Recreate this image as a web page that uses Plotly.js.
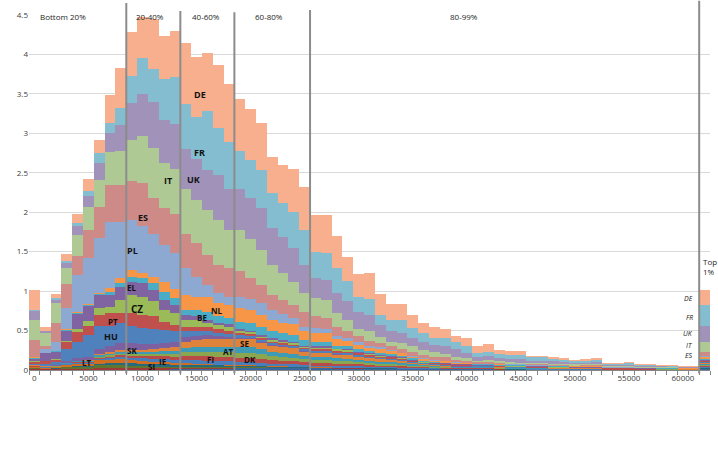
<!DOCTYPE html>
<html>
<head>
<meta charset="utf-8">
<script src="https://cdn.plot.ly/plotly-3.0.1.min.js"></script>
<style>
html, body { margin: 0; padding: 0; background: #fff; }
#chart { width: 718px; height: 460px; }
</style>
</head>
<body>
<div id="chart"></div>
<script>
// income bins (1000 wide), last one is the top 1%
const bins = [
	"0","1000","2000","3000","4000","5000","6000","7000","8000","9000",
	"10000","11000","12000","13000","14000","15000","16000","17000","18000","19000",
	"20000","21000","22000","23000","24000","25000","26000","27000","28000","29000",
	"30000","31000","32000","33000","34000","35000","36000","37000","38000","39000",
	"40000","41000","42000","43000","44000","45000","46000","47000","48000","49000",
	"50000","51000","52000","53000","54000","55000","56000","57000","58000","59000",
	"60000","61000","Top 1%"
];
const tick_pos = [0, 5, 10, 15, 20, 25, 30, 35, 40, 45, 50, 55, 60];
const tick_labels = ["0","5000","10000","15000","20000","25000","30000","35000","40000","45000","50000","55000","60000"];

// stacked from the bottom up
const LU = [.005,.002,.002,.002,.002,.002,.003,.003,.004,.004,
	.004,.005,.006,.007,.01,.012,.014,.016,.018,.02,
	.022,.022,.022,.022,.022,.02,.02,.02,.019,.019,
	.018,.017,.016,.015,.013,.011,.01,.009,.008,.007,
	.007,.007,.007,.006,.006,.006,.005,.005,.004,.004,
	.004,.004,.004,.003,.003,.003,.003,.003,.002,.002,
	.002,.002,.015];
const EE = [.005,.005,.006,.01,.012,.012,.02,.02,.022,.02,
	.018,.016,.015,.013,.012,.011,.01,.009,.008,.007,
	.006,.005,.004,.004,.003,.003,.002,.002,.002,.002,
	.002,.001,.001,.001,.001,.001,.001,.001,.001,.001,
	.001,.001,.001,.001,0,0,0,0,0,0,
	0,0,0,0,0,0,0,0,0,0,
	0,0,.002];
const LV = [.01,.008,.01,.02,.025,.025,.035,.035,.035,.03,
	.025,.02,.018,.015,.013,.011,.01,.009,.008,.007,
	.006,.005,.004,.004,.003,.003,.002,.002,.002,.002,
	.002,.001,.001,.001,.001,.001,.001,.001,.001,.001,
	.001,.001,.001,0,0,0,0,0,0,0,
	0,0,0,0,0,0,0,0,0,0,
	0,0,.002];
const SI = [.005,.003,.003,.005,.007,.008,.02,.025,.03,.032,
	.035,.035,.034,.032,.03,.028,.026,.024,.022,.02,
	.018,.015,.012,.01,.009,.007,.006,.006,.005,.004,
	.004,.003,.003,.003,.002,.002,.001,.001,.001,.001,
	.001,.001,.001,.001,.001,.001,.001,.001,.001,.001,
	.001,.001,.001,0,0,0,0,0,0,0,
	0,0,.003];
const LT = [.01,.01,.012,.025,.035,.035,.045,.045,.045,.04,
	.035,.03,.025,.02,.018,.015,.013,.011,.01,.009,
	.008,.007,.006,.005,.004,.003,.003,.003,.002,.002,
	.002,.002,.001,.001,.001,.001,.001,.001,.001,.001,
	.001,0,0,0,0,0,0,0,0,0,
	0,0,0,0,0,0,0,0,0,0,
	0,0,.002];
const IE = [.005,.005,.005,.008,.01,.01,.02,.025,.03,.032,
	.035,.038,.04,.04,.045,.045,.045,.044,.042,.04,
	.04,.036,.033,.032,.03,.026,.024,.024,.022,.021,
	.019,.017,.016,.015,.013,.011,.009,.008,.007,.006,
	.006,.005,.005,.005,.004,.004,.004,.004,.003,.003,
	.003,.003,.003,.003,.003,.003,.002,.002,.002,.002,
	.001,.001,.012];
const FI = [.005,.004,.004,.006,.007,.008,.015,.018,.022,.025,
	.028,.032,.036,.04,.05,.055,.058,.058,.057,.055,
	.055,.05,.045,.042,.04,.034,.031,.031,.028,.027,
	.023,.02,.019,.017,.015,.012,.01,.008,.007,.005,
	.005,.005,.005,.004,.004,.004,.003,.003,.003,.003,
	.003,.003,.003,.002,.002,.002,.002,.002,.002,.002,
	.001,.001,.01];
const DK = [.005,.003,.004,.005,.006,.007,.012,.015,.018,.02,
	.022,.025,.03,.035,.045,.05,.055,.058,.06,.062,
	.065,.058,.052,.05,.047,.04,.037,.037,.034,.032,
	.028,.025,.023,.021,.018,.015,.012,.01,.008,.007,
	.007,.006,.006,.005,.004,.004,.003,.003,.003,.003,
	.003,.003,.003,.002,.002,.002,.002,.002,.001,.001,
	.001,.001,.012];
const AT = [.005,.003,.004,.006,.007,.008,.015,.017,.02,.022,
	.025,.03,.035,.04,.055,.06,.065,.066,.068,.07,
	.07,.062,.055,.052,.048,.042,.038,.038,.035,.033,
	.03,.027,.025,.023,.02,.016,.013,.011,.009,.007,
	.007,.006,.006,.006,.005,.005,.004,.004,.003,.003,
	.003,.003,.003,.002,.002,.002,.001,.001,.001,.001,
	.001,.001,.012];
const SE = [.005,.004,.005,.008,.009,.01,.02,.022,.024,.025,
	.028,.032,.04,.05,.08,.088,.1,.1,.1,.1,
	.104,.088,.077,.071,.067,.056,.052,.052,.047,.044,
	.039,.035,.033,.031,.025,.019,.016,.014,.011,.008,
	.008,.008,.008,.007,.006,.006,.005,.005,.003,.003,
	.003,.003,.003,.003,.003,.003,.002,.002,.002,.002,
	.002,.002,.018];
const SK = [0,.003,.005,.015,.03,.035,.065,.075,.09,.09,
	.075,.067,.061,.058,.062,.055,.044,.035,.027,.02,
	.016,.012,.01,.008,.007,.006,.005,.005,.004,.004,
	.003,.002,.002,.002,.001,.001,.001,.001,.001,.001,
	.001,0,0,0,0,0,0,0,0,0,
	0,0,0,0,0,0,0,0,0,0,
	0,0,.002];
const HU = [.02,.03,.04,.16,.21,.28,.29,.26,.25,.22,
	.20,.19,.17,.14,.07,.06,.05,.04,.04,.03,
	.02,.02,.02,.02,.02,.02,.02,.02,.02,.02,
	.02,.02,.015,.015,.015,.01,.01,.01,.01,.01,
	.005,.005,.005,.005,.005,.005,.005,.005,.005,.005,
	.002,.002,.002,.002,.002,.002,.002,.002,.002,.002,
	.002,.002,.01];
const PT = [.02,.03,.03,.09,.12,.12,.14,.16,.13,.16,
	.17,.16,.10,.08,.06,.06,.05,.05,.04,.03,
	.03,.02,.02,.02,.02,.02,.02,.02,.02,.02,
	.02,.02,.015,.015,.015,.01,.01,.01,.01,.005,
	.01,.005,.005,.005,.005,.005,.005,.005,.005,.005,
	.003,.003,.003,.003,.003,.003,.002,.002,.002,.002,
	.002,.002,.01];
const CZ = [.02,.01,.01,.01,.04,.06,.08,.08,.17,.23,
	.23,.19,.15,.15,.08,.08,.06,.05,.05,.03,
	.02,.02,.02,.02,.02,.015,.02,.02,.02,.02,
	.01,.01,.01,.01,.01,.01,.005,.005,.005,.005,
	.005,.005,.005,.005,.005,.005,.005,.005,.005,.005,
	.005,.005,.005,.002,.002,.002,.002,.002,.002,.002,
	.002,.002,.01];
const EL = [.02,.09,.09,.13,.19,.19,.17,.15,.16,.17,
	.17,.15,.13,.10,.07,.06,.03,.03,.03,.02,
	.02,.02,.02,.015,.015,.015,.02,.02,.01,.01,
	.01,.01,.01,.01,.01,.01,.005,.005,.005,.005,
	.005,.005,.005,.005,.005,.005,.005,.005,.005,.005,
	.005,.005,.005,.003,.003,.003,.002,.002,.002,.002,
	.002,.002,.01];
const BE = [.015,.005,.005,.01,.01,.01,.01,.04,.05,.06,
	.06,.08,.10,.09,.06,.07,.11,.08,.08,.09,
	.10,.11,.10,.095,.085,.07,.06,.06,.04,.04,
	.04,.03,.03,.02,.02,.02,.015,.01,.01,.01,
	.01,.01,.01,.01,.01,.01,.005,.005,.005,.005,
	.005,.005,.005,.003,.003,.003,.002,.002,.002,.002,
	.002,.002,.01];
const NL = [.005,.005,.005,.01,.01,.02,.01,.05,.06,.09,
	.07,.08,.13,.12,.19,.17,.18,.17,.16,.17,
	.16,.15,.14,.13,.14,.11,.11,.11,.08,.07,
	.05,.04,.04,.035,.03,.02,.02,.015,.015,.01,
	.01,.005,.005,.005,.005,.005,.005,.005,.005,.005,
	.005,.005,.005,.002,.002,.002,.003,.003,.002,.002,
	.002,.002,.02];
const PL = [.01,.05,.12,.26,.47,.58,.70,.84,.72,.63,
	.59,.55,.46,.45,.34,.25,.16,.12,.11,.15,
	.14,.15,.12,.11,.08,.06,.06,.05,.04,.03,
	.03,.03,.03,.015,.01,.01,.01,.01,.01,.01,
	.005,.005,.005,.005,.005,.005,.005,.005,.005,.005,
	.005,.005,.005,.005,.005,.005,.003,.003,.003,.002,
	.002,.002,.02];
const ES = [.21,.03,.24,.31,.24,.35,.39,.465,.47,.49,
	.55,.45,.47,.50,.44,.43,.38,.36,.36,.32,
	.27,.23,.19,.18,.17,.19,.15,.14,.12,.10,
	.08,.06,.05,.05,.04,.05,.04,.04,.04,.03,
	.025,.02,.02,.015,.01,.01,.01,.01,.01,.005,
	.005,.01,.01,.005,.005,.005,.002,.002,.003,.002,
	.002,.002,.05];
const IT = [.25,.17,.25,.20,.27,.29,.35,.415,.42,.53,
	.60,.64,.58,.57,.56,.54,.57,.57,.48,.53,
	.49,.44,.38,.34,.29,.23,.23,.23,.17,.13,
	.09,.12,.08,.06,.08,.07,.06,.06,.04,.04,
	.03,.02,.03,.02,.02,.015,.02,.02,.015,.015,
	.015,.015,.02,.01,.01,.01,.01,.01,.008,.007,
	.006,.006,.12];
const UK = [.12,.02,.04,.07,.11,.14,.21,.24,.33,.47,
	.53,.58,.54,.57,.51,.52,.51,.57,.52,.52,
	.52,.53,.47,.45,.43,.36,.25,.25,.25,.25,
	.22,.21,.15,.14,.13,.10,.11,.09,.10,.10,
	.07,.05,.05,.04,.035,.04,.03,.03,.03,.025,
	.02,.02,.02,.015,.01,.01,.01,.01,.009,.009,
	.006,.006,.21];
const FR = [.01,.01,.02,.025,.04,.07,.13,.13,.22,.34,
	.46,.41,.52,.59,.57,.54,.74,.60,.60,.47,
	.48,.49,.44,.44,.45,.445,.34,.34,.32,.25,
	.18,.20,.13,.13,.16,.13,.11,.09,.10,.08,
	.08,.04,.05,.05,.055,.055,.04,.04,.03,.03,
	.02,.025,.025,.015,.015,.035,.012,.012,.012,.01,
	.008,.008,.26];
const DE = [.26,.05,.05,.085,.12,.15,.17,.36,.51,.55,
	.52,.64,.55,.59,.77,.76,.74,.80,.74,.66,
	.65,.59,.46,.48,.55,.545,.465,.49,.41,.30,
	.30,.33,.26,.21,.21,.17,.12,.13,.12,.08,
	.11,.09,.10,.05,.05,.05,.02,.02,.02,.02,
	.02,.02,.025,.01,.01,.01,.008,.008,.008,.008,
	.006,.006,.19];

const series = [
	["LU", LU, "#3a679c"], ["EE", EE, "#9e3b39"], ["LV", LV, "#5f7530"],
	["SI", SI, "#276a7c"], ["LT", LT, "#d06f21"], ["IE", IE, "#4a7ebb"],
	["FI", FI, "#b84a47"], ["DK", DK, "#8aa64e"], ["AT", AT, "#3e9bb5"],
	["SE", SE, "#e0833a"], ["SK", SK, "#7d60a0"],
	["HU", HU, "#4f81bd"], ["PT", PT, "#c0504d"], ["CZ", CZ, "#9bbb59"],
	["EL", EL, "#8064a2"], ["BE", BE, "#4bacc6"], ["NL", NL, "#f79646"],
	["PL", PL, "#8ea9d1"], ["ES", ES, "#cd8a87"], ["IT", IT, "#aec993"],
	["UK", UK, "#a092b8"], ["FR", FR, "#84bdcf"], ["DE", DE, "#f8af8d"]
];

const x_idx = bins.map((b, i) => i);

const chart_data = series.map(([name, values, color]) => ({
	name: name,
	type: "bar",
	x: x_idx,
	y: values,
	customdata: bins,
	marker: {color: color, line: {width: 0}},
	hovertemplate: name + " %{customdata}: %{y}<extra></extra>"
}));

// group dividers sit between bins
const dividers = [[8.5, 1.034], [13.5, 1.011], [18.5, 1.008], [25.5, 1.014], [61.5, 1.04]];

const shapes = dividers.map(([xv, top]) => ({
	type: "line", xref: "x", yref: "paper",
	x0: xv, x1: xv, y0: -0.01, y1: top,
	line: {color: "#8c8c8c", width: 2}
}));

const font_base = "Open Sans, Liberation Sans, sans-serif";

// group captions sit above the plot area, so they use paper y
const group_labels = [
	["Bottom 20%", 2.6], ["20-40%", 10.7], ["40-60%", 15.9], ["60-80%", 21.7], ["80-99%", 39.7]
];

const country_labels = [
	["DE", 15.3, 3.49, 9], ["FR", 15.3, 2.76, 9], ["IT", 12.4, 2.40, 9], ["UK", 14.7, 2.41, 9],
	["ES", 10.0, 1.93, 9], ["PL", 9.1, 1.52, 9], ["EL", 9.0, 1.04, 8], ["CZ", 9.5, 0.77, 10],
	["PT", 7.3, 0.61, 8], ["HU", 7.1, 0.42, 9], ["NL", 16.9, 0.76, 8], ["BE", 15.5, 0.66, 8],
	["SE", 19.4, 0.33, 8], ["AT", 18.0, 0.24, 8], ["SK", 9.0, 0.25, 8], ["DK", 19.9, 0.13, 8],
	["FI", 16.3, 0.13, 8], ["IE", 11.9, 0.11, 8], ["SI", 10.8, 0.05, 8], ["LT", 4.9, 0.09, 8]
];

const top_labels = [["DE", 0.91], ["FR", 0.67], ["UK", 0.46], ["IT", 0.315], ["ES", 0.19]];

const annotations = [];
for (const [txt, xv] of group_labels) {
	annotations.push({
		x: xv, y: 1.017, xref: "x", yref: "paper", text: txt, showarrow: false,
		font: {family: font_base, size: 8, color: "#262626"}
	});
}
annotations.push({
	x: 61.65, y: 1.31, xref: "x", yref: "y", text: "Top<br>1%", showarrow: false,
	xanchor: "left", align: "left",
	font: {family: font_base, size: 8, color: "#262626"}
});
for (const [txt, xv, yv, sz] of country_labels) {
	annotations.push({
		x: xv, y: yv, xref: "x", yref: "y", text: "<b>" + txt + "</b>", showarrow: false,
		font: {family: font_base, size: sz, color: "#111"}
	});
}
for (const [txt, yv] of top_labels) {
	annotations.push({
		x: 61.1, y: yv, xref: "x", yref: "y", text: "<i>" + txt + "</i>", showarrow: false,
		xanchor: "right", height: 9, valign: "middle",
		font: {family: font_base, size: 7, color: "#222"}
	});
}

const chart_layout = {
	width: 718,
	height: 460,
	margin: {l: 28.6, r: 8.4, t: 15, b: 90},
	paper_bgcolor: "#fff",
	plot_bgcolor: "#fff",
	barmode: "stack",
	bargap: 0,
	showlegend: false,
	font: {family: font_base, size: 8, color: "#404040"},
	xaxis: {
		range: [-0.5, 62.5],
		tickvals: tick_pos,
		ticktext: tick_labels,
		ticks: "",
		showgrid: false,
		zeroline: false,
		showline: true,
		linecolor: "#868686",
		linewidth: 1,
		tickfont: {size: 8, color: "#404040"},
		minor: {tick0: -0.5, dtick: 1, ticks: "outside", ticklen: 4, tickcolor: "#868686", showgrid: false}
	},
	yaxis: {
		range: [0, 4.5],
		dtick: 0.5,
		showgrid: true,
		gridcolor: "#d9d9d9",
		gridwidth: 1,
		zeroline: false,
		showline: false,
		ticks: "",
		tickfont: {size: 8, color: "#404040"}
	},
	shapes: shapes,
	annotations: annotations
};

Plotly.newPlot("chart", chart_data, chart_layout, {displayModeBar: false, staticPlot: true});
</script>
</body>
</html>
